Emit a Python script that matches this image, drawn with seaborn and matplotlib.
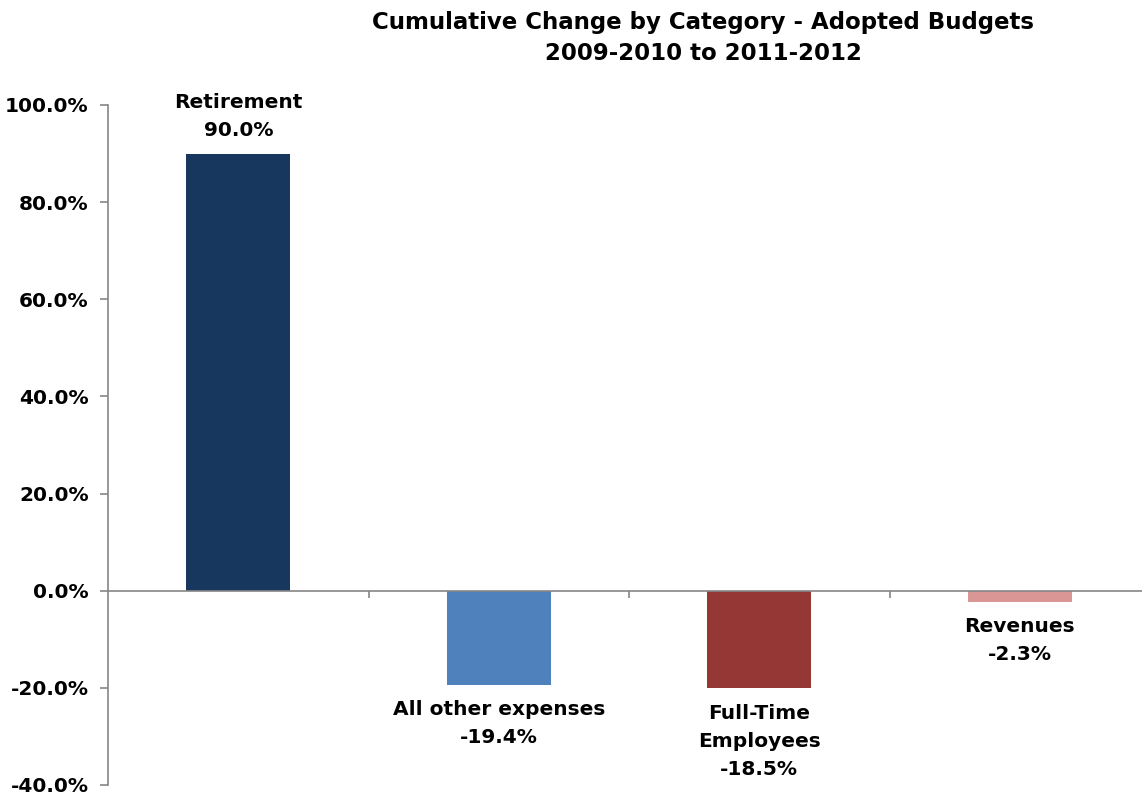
import matplotlib
matplotlib.use("Agg")
import matplotlib.pyplot as plt
import seaborn as sns
import pandas as pd

categories = ["Retirement", "All other expenses", "Full-Time\nEmployees", "Revenues"]
values = [90.0, -19.4, -20.1, -2.3]
value_labels = ["90.0%", "-19.4%", "-18.5%", "-2.3%"]
colors = ["#17375E", "#4F81BD", "#953735", "#D99694"]
y_ticks = [-40, -20, 0, 20, 40, 60, 80, 100]
title = "Cumulative Change by Category - Adopted Budgets\n2009-2010 to 2011-2012"

sns.set_theme(style="white")
plt.rcParams["font.family"] = ["DejaVu Sans"]
plt.rcParams["text.color"] = "black"

df = pd.DataFrame({"category": categories, "value": values})

fig = plt.figure(figsize=(11.42, 7.95), dpi=100)
W, H = 1142, 795
left, right, top, bottom = 108, 1150, 105, 785
ax = fig.add_axes([left / W, (H - bottom) / H, (right - left) / W, (bottom - top) / H])

sns.barplot(data=df, x="category", y="value", hue="category", palette=colors,
            order=categories, hue_order=categories, width=0.4, legend=False,
            saturation=1, linewidth=0, ax=ax)

ax.set_xlim(-0.5, 3.5)
ax.set_ylim(-40, 100)
ax.set_yticks(y_ticks)
ax.set_yticklabels([f"{t:.1f}%" for t in y_ticks], fontsize=14.5, fontweight="bold", color="black")
ax.set_xlabel("")
ax.set_ylabel("")
ax.set_xticks([])
ax.set_xticks([0.5, 1.5, 2.5, 3.5], minor=True)
ax.tick_params(axis="x", which="minor", direction="out", length=5, color="#868686", width=1.2, bottom=True)
ax.tick_params(axis="y", direction="out", length=6, color="#868686", width=1.2, left=True, pad=8)

for s in ["top", "right"]:
    ax.spines[s].set_visible(False)
ax.spines["left"].set_color("#868686")
ax.spines["left"].set_linewidth(1.2)
ax.spines["bottom"].set_position(("data", 0))
ax.spines["bottom"].set_color("#868686")
ax.spines["bottom"].set_linewidth(1.2)
ax.grid(False)

for i, (cat, v, lab) in enumerate(zip(categories, values, value_labels)):
    text = f"{cat}\n{lab}"
    if v >= 0:
        ax.annotate(text, (i, v), xytext=(0, 10), textcoords="offset points",
                    ha="center", va="bottom", fontsize=14.5, fontweight="bold",
                    linespacing=1.6, color="black")
    else:
        ax.annotate(text, (i, v), xytext=(0, -11), textcoords="offset points",
                    ha="center", va="top", fontsize=14.5, fontweight="bold",
                    linespacing=1.6, color="black")

fig.text(703 / W, 1 - 11 / H, title, ha="center", va="top", fontsize=16.5,
         fontweight="bold", linespacing=1.45, color="black")

fig.savefig("out.png", dpi=100)
